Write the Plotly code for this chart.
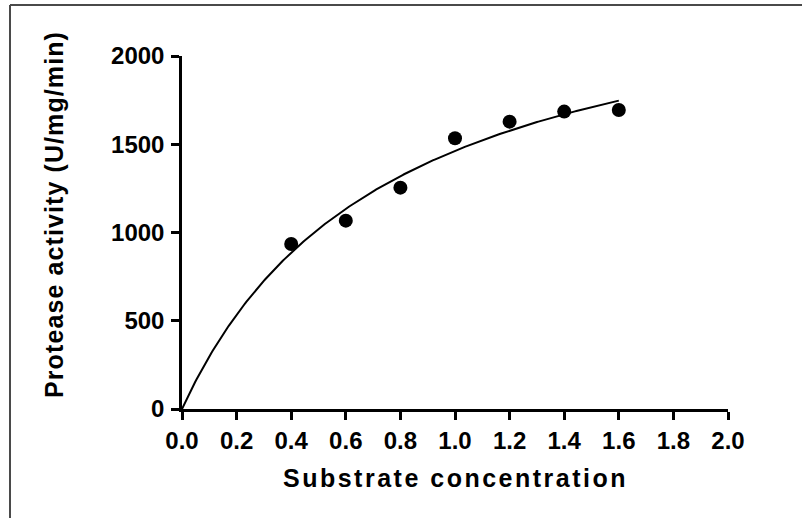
import numpy as np
import plotly.graph_objects as go

# Substrate concentration and measured protease activity
substrate = [0.4, 0.6, 0.8, 1.0, 1.2, 1.4, 1.6]
activity = [935, 1067, 1254, 1534, 1628, 1685, 1694]

x_ticks = [0.0, 0.2, 0.4, 0.6, 0.8, 1.0, 1.2, 1.4, 1.6, 1.8, 2.0]
y_ticks = [0, 500, 1000, 1500, 2000]

# Michaelis-Menten fit: Vmax is linear given Km, so scan Km and solve Vmax
xs = np.array(substrate)
ys = np.array(activity, dtype=float)
best = None
for km in np.linspace(0.05, 5.0, 4000):
    f = xs / (km + xs)
    vmax = float(np.dot(ys, f) / np.dot(f, f))
    sse = float(np.sum((ys - vmax * f) ** 2))
    if best is None or sse < best[0]:
        best = (sse, km, vmax)
_, km_fit, vmax_fit = best
x_curve = np.linspace(0, max(substrate), 300)
y_curve = vmax_fit * x_curve / (km_fit + x_curve)

FONT = "Liberation Sans, Arial, sans-serif"

fig = go.Figure()
fig.add_trace(go.Scatter(
    x=x_curve, y=y_curve, mode="lines",
    line=dict(color="black", width=2), hoverinfo="skip", showlegend=False,
))
fig.add_trace(go.Scatter(
    x=substrate, y=activity, mode="markers",
    marker=dict(color="black", size=14, symbol="circle"), showlegend=False,
))

W, H = 802, 518
L, R, T, B = 182, 74, 56, 109
pw, ph = W - L - R, H - T - B

def px_x(p):
    return (p - L) / pw

def px_y(p):
    return (H - B - p) / ph

border = dict(color="#4a4a4a", width=2)
fig.add_shape(type="line", xref="paper", yref="paper",
              x0=px_x(10), x1=px_x(10), y0=px_y(H + 10), y1=px_y(5), line=border)
fig.add_shape(type="line", xref="paper", yref="paper",
              x0=px_x(10), x1=px_x(W + 10), y0=px_y(5), y1=px_y(5), line=border)

title_font = dict(family=FONT, size=25, color="black", weight="bold")
fig.add_annotation(
    text='<span style="letter-spacing:1.1px">Protease activity (U/mg/min)</span>',
    xref="paper", yref="paper", x=px_x(54), y=px_y(215),
    xanchor="center", yanchor="middle",
    textangle=-90, showarrow=False, font=title_font,
)
fig.add_annotation(
    text='<span style="letter-spacing:2.5px">Substrate concentration</span>',
    xref="paper", yref="paper", x=px_x(455), y=px_y(478),
    xanchor="center", yanchor="middle",
    showarrow=False, font=title_font,
)

axis_common = dict(
    showline=True, linecolor="black", linewidth=2.5,
    ticks="outside", ticklen=8, tickwidth=2.5, tickcolor="black",
    showgrid=False, zeroline=False,
    tickfont=dict(family=FONT, size=24, color="black", weight="bold"),
)
fig.update_xaxes(range=[0, 2], tickvals=x_ticks,
                 ticktext=[f"{v:.1f}" for v in x_ticks], **axis_common)
fig.update_yaxes(range=[0, 2000], tickvals=y_ticks,
                 ticktext=[str(v) for v in y_ticks],
                 ticklabelstandoff=2, **axis_common)

fig.update_layout(
    width=W, height=H,
    margin=dict(l=L, r=R, t=T, b=B),
    paper_bgcolor="white", plot_bgcolor="white",
    font=dict(family=FONT, color="black"),
)
fig.update_traces(cliponaxis=False)

fig.write_html("out.html")
